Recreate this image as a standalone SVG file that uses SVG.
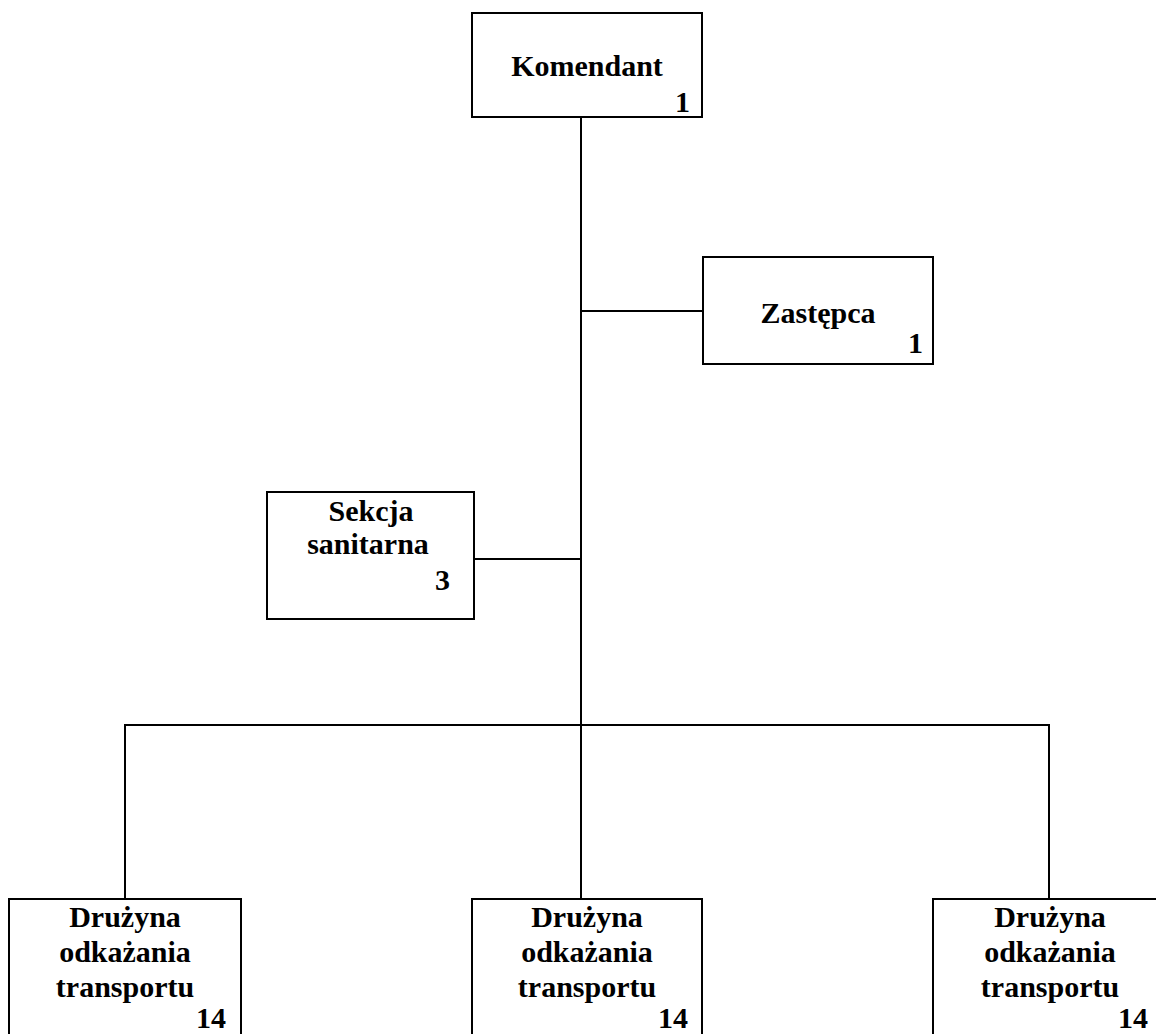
<svg xmlns="http://www.w3.org/2000/svg" width="1156" height="1034" viewBox="0 0 1156 1034">
<style>
.box{fill:#fff;stroke:#000;stroke-width:2}
.ln{fill:none;stroke:#000;stroke-width:2}
text{font-family:"Liberation Serif","Times New Roman",serif;font-weight:bold;font-size:30px;fill:#000}
.c{text-anchor:middle}
.r{text-anchor:end}
</style>
<rect width="1156" height="1034" fill="#fff"/>
<g id="connectors">
<path class="ln" d="M581 117V725"/>
<path class="ln" d="M581 311H703"/>
<path class="ln" d="M474 559H581"/>
<path class="ln" d="M125 899V725H1049V899"/>
<path class="ln" d="M581 725V899"/>
</g>
<g id="komendant">
<rect class="box" x="472" y="13" width="230" height="104"/>
<text class="c" x="587" y="76">Komendant</text>
<text class="r" x="690" y="112">1</text>
</g>
<g id="zastepca">
<rect class="box" x="703" y="257" width="230" height="107"/>
<text class="c" x="818" y="323">Zastępca</text>
<text class="r" x="923" y="353">1</text>
</g>
<g id="sekcja">
<rect class="box" x="267" y="492" width="207" height="127"/>
<text class="c" x="371" y="521">Sekcja</text>
<text class="c" x="368" y="554">sanitarna</text>
<text class="r" x="450" y="590">3</text>
</g>
<g id="druzyna1">
<rect class="box" x="9" y="899" width="232" height="160"/>
<text class="c" x="125" y="927">Drużyna</text>
<text class="c" x="125" y="962">odkażania</text>
<text class="c" x="125" y="997">transportu</text>
<text class="r" x="226" y="1028">14</text>
</g>
<g id="druzyna2">
<rect class="box" x="472" y="899" width="230" height="160"/>
<text class="c" x="587" y="927">Drużyna</text>
<text class="c" x="587" y="962">odkażania</text>
<text class="c" x="587" y="997">transportu</text>
<text class="r" x="688" y="1028">14</text>
</g>
<g id="druzyna3">
<rect class="box" x="933" y="899" width="232" height="160"/>
<text class="c" x="1050" y="927">Drużyna</text>
<text class="c" x="1050" y="962">odkażania</text>
<text class="c" x="1050" y="997">transportu</text>
<text class="r" x="1148" y="1028">14</text>
</g>
</svg>
